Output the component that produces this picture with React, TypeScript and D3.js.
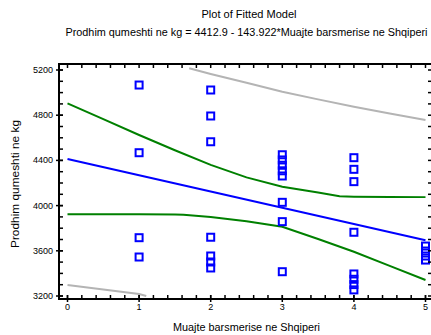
import React from "react";
import * as d3 from "d3";

const W = 431;
const H = 335;

const title = "Plot of Fitted Model";
const subtitle = "Prodhim qumeshti ne kg = 4412.9 - 143.922*Muajte barsmerise ne Shqiperi";
const xTitle = "Muajte barsmerise ne Shqiperi";
const yTitle = "Prodhim qumeshti ne kg";

const xTicks = [0, 1, 2, 3, 4, 5];
const yTicks = [3200, 3600, 4000, 4400, 4800, 5200];

// observed points
const obsX = [
  1, 1, 1, 1,
  2, 2, 2, 2, 2, 2, 2,
  3, 3, 3, 3, 3, 3, 3, 3,
  4, 4, 4, 4, 4, 4, 4, 4,
  5, 5, 5, 5,
];
const obsY = [
  5067, 4468, 3716, 3545,
  5023, 4793, 4565, 3720, 3554, 3501, 3448,
  4450, 4404, 4357, 4308, 4262, 4029, 3858, 3415,
  4424, 4321, 4212, 3764, 3395, 3348, 3301, 3254,
  3642, 3598, 3554, 3518,
];

// fitted line (from the model in the subtitle)
const fitX = [0, 5];
const fitY = [4412.9, 3693.3];

// confidence limits (green)
const confX = [0, 0.5, 1, 1.5, 2, 2.5, 3, 3.5, 3.8, 4, 4.5, 5];
const confUpper = [4905, 4765, 4625, 4490, 4360, 4250, 4167, 4115, 4082, 4079, 4077, 4075];
const confLowX = [0, 0.5, 1, 1.5, 1.62, 2, 2.5, 3, 3.5, 4, 4.5, 5];
const confLower = [3923, 3923, 3923, 3922, 3920, 3900, 3862, 3813, 3705, 3592, 3467, 3342];

// prediction limits (gray)
const predUpX = [1.7, 2, 2.5, 3, 3.5, 4, 4.5, 5];
const predUpper = [5215, 5165, 5088, 5008, 4940, 4875, 4815, 4758];
const predLowX = [0, 0.5, 1, 1.1];
const predLower = [3297, 3258, 3218, 3200];

export default function App() {
  const left = 59, right = 432, top = 64, bottom = 299;
  const x = d3.scaleLinear().domain([0, 5]).range([67.5, 425.5]);
  const y = d3.scaleLinear().domain([3200, 5200]).range([296, 70]);

  const line = (xs: number[], ys: number[]) =>
    d3.line<number>().x((_, i) => x(xs[i])).y((d) => y(d))(ys) || "";

  const xMinor = d3.range(0, 5.0001, 0.2);
  const yMinor = d3.range(3200, 5200.01, 100);
  const font = "Liberation Sans, Arial, sans-serif";

  return (
    <svg width={W} height={H} style={{ position: "absolute", left: 0, top: 0, display: "block", background: "#fff" }}>
      <text x={249} y={18} textAnchor="middle" fontFamily={font} fontSize={10} textLength={95} lengthAdjust="spacingAndGlyphs">{title}</text>
      <text x={246.5} y={36} textAnchor="middle" fontFamily={font} fontSize={10} textLength={362} lengthAdjust="spacingAndGlyphs">{subtitle}</text>

      <defs>
        <clipPath id="plot">
          <rect x={left} y={top} width={right - left} height={bottom - top} />
        </clipPath>
      </defs>

      <g clipPath="url(#plot)" fill="none" strokeWidth={2}>
        <path d={line(predUpX, predUpper)} stroke="#b4b4b4" />
        <path d={line(predLowX, predLower)} stroke="#b4b4b4" />
        <path d={line(confX, confUpper)} stroke="#008000" />
        <path d={line(confLowX, confLower)} stroke="#008000" />
        <path d={line(fitX, fitY)} stroke="#0000ff" />
        {obsY.map((v, i) => (
          <rect key={i} x={x(obsX[i]) - 3.5} y={y(v) - 3.5} width={7} height={7} stroke="#0000ff" strokeWidth={2} fill="none" />
        ))}
      </g>

      {/* frame */}
      <rect x={left} y={top} width={right - left} height={bottom - top} fill="none" stroke="#000" strokeWidth={2} />

      {/* ticks */}
      <g stroke="#000" strokeWidth={1.5}>
        {xMinor.map((t, i) => (
          <g key={"xm" + i}>
            <line x1={x(t)} x2={x(t)} y1={bottom} y2={bottom - 4} />
            <line x1={x(t)} x2={x(t)} y1={top} y2={top + 4} />
          </g>
        ))}
        {xTicks.map((t, i) => (
          <line key={"xM" + i} x1={x(t)} x2={x(t)} y1={bottom + 3} y2={bottom - 4} />
        ))}
        {yMinor.map((t, i) => (
          <g key={"ym" + i}>
            <line x1={left} x2={left + 4} y1={y(t)} y2={y(t)} />
            <line x1={right} x2={right - 4} y1={y(t)} y2={y(t)} />
          </g>
        ))}
        {yTicks.map((t, i) => (
          <line key={"yM" + i} x1={left - 3} x2={left + 4} y1={y(t)} y2={y(t)} />
        ))}
      </g>

      <g fontFamily={font} fontSize={9} fill="#000">
        {xTicks.map((t, i) => (
          <text key={"xl" + i} x={x(t)} y={310} textAnchor="middle">{t}</text>
        ))}
        {yTicks.map((t, i) => (
          <text key={"yl" + i} x={53} y={y(t) + 3} textAnchor="end">{t}</text>
        ))}
      </g>

      <text x={246.5} y={331} textAnchor="middle" fontFamily={font} fontSize={10} textLength={147} lengthAdjust="spacingAndGlyphs">{xTitle}</text>
      <text transform={`translate(19,184) rotate(-90)`} textAnchor="middle" fontFamily={font} fontSize={10} textLength={128} lengthAdjust="spacingAndGlyphs">{yTitle}</text>
    </svg>
  );
}
